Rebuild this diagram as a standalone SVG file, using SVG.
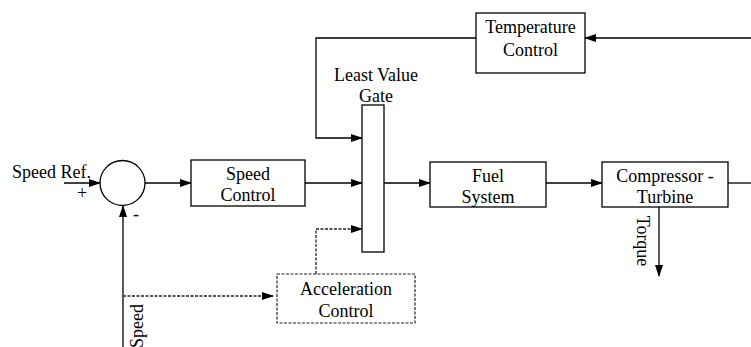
<svg xmlns="http://www.w3.org/2000/svg" width="751" height="347" viewBox="0 0 751 347">
<defs>
<marker id="ah" markerWidth="12" markerHeight="8" refX="11" refY="4" orient="auto" markerUnits="userSpaceOnUse">
<path d="M0,0 L12,4 L0,8 Z" fill="#000"/>
</marker>
<style>
.box{fill:#fff;stroke:#000;stroke-width:1.3}
.dbox{fill:#fff;stroke:#222;stroke-width:1.2;stroke-dasharray:3,1.5}
.ln{fill:none;stroke:#000;stroke-width:1.3}
.dl{fill:none;stroke:#222;stroke-width:1.3;stroke-dasharray:3,1.5}
text{font-family:"Liberation Serif","Times New Roman",serif;font-size:18px;fill:#000}
.c{text-anchor:middle}
</style>
</defs>
<rect width="751" height="347" fill="#fff"/>
<g id="connectors">
<line class="ln" x1="64" y1="183" x2="100" y2="183" marker-end="url(#ah)"/>
<line class="ln" x1="123" y1="347" x2="123" y2="206" marker-end="url(#ah)"/>
<line class="dl" x1="123" y1="296" x2="273" y2="296" marker-end="url(#ah)"/>
<line class="ln" x1="145" y1="183" x2="191" y2="183" marker-end="url(#ah)"/>
<line class="ln" x1="305" y1="183" x2="362" y2="183" marker-end="url(#ah)"/>
<polyline class="ln" points="476,38 316,38 316,138 362,138" marker-end="url(#ah)"/>
<line class="ln" x1="751" y1="38" x2="585" y2="38" marker-end="url(#ah)"/>
<polyline class="dl" points="316,274 316,229 362,229" marker-end="url(#ah)"/>
<line class="ln" x1="384" y1="183" x2="430" y2="183" marker-end="url(#ah)"/>
<line class="ln" x1="546" y1="183" x2="602" y2="183" marker-end="url(#ah)"/>
<line class="ln" x1="728" y1="183" x2="751" y2="183"/>
<line class="ln" x1="659" y1="207" x2="659" y2="276" marker-end="url(#ah)"/>
</g>
<g id="labels">
<text x="12" y="178">Speed Ref.</text>
<text x="82" y="199" class="c" font-size="15">+</text>
<text x="136" y="220" class="c" font-size="15">-</text>
<text class="c" transform="translate(143,326) rotate(-90)">Speed</text>
<text class="c" transform="translate(637,241) rotate(90)">Torque</text>
</g>
<g id="sum">
<circle cx="122.5" cy="183" r="22.5" class="box"/>
</g>
<g id="speed-control">
<rect x="191" y="160" width="114" height="46" class="box"/>
<text x="248" y="180" class="c">Speed</text>
<text x="248" y="201" class="c">Control</text>
</g>
<g id="least-value-gate">
<rect x="362" y="105" width="22" height="147" class="box"/>
<text x="376" y="81" class="c">Least Value</text>
<text x="376" y="102" class="c">Gate</text>
</g>
<g id="temperature-control">
<rect x="476" y="13" width="109" height="60" class="box"/>
<text x="530.5" y="33" class="c">Temperature</text>
<text x="530.5" y="56" class="c">Control</text>
</g>
<g id="fuel-system">
<rect x="430" y="162" width="116" height="45" class="box"/>
<text x="488" y="182" class="c">Fuel</text>
<text x="488" y="203" class="c">System</text>
</g>
<g id="compressor-turbine">
<rect x="602" y="162" width="126" height="45" class="box"/>
<text x="665" y="182" class="c">Compressor -</text>
<text x="665" y="203" class="c">Turbine</text>
</g>
<g id="acceleration-control">
<rect x="277" y="274" width="138" height="49" class="dbox"/>
<text x="346" y="295" class="c">Acceleration</text>
<text x="346" y="317" class="c">Control</text>
</g>
</svg>
